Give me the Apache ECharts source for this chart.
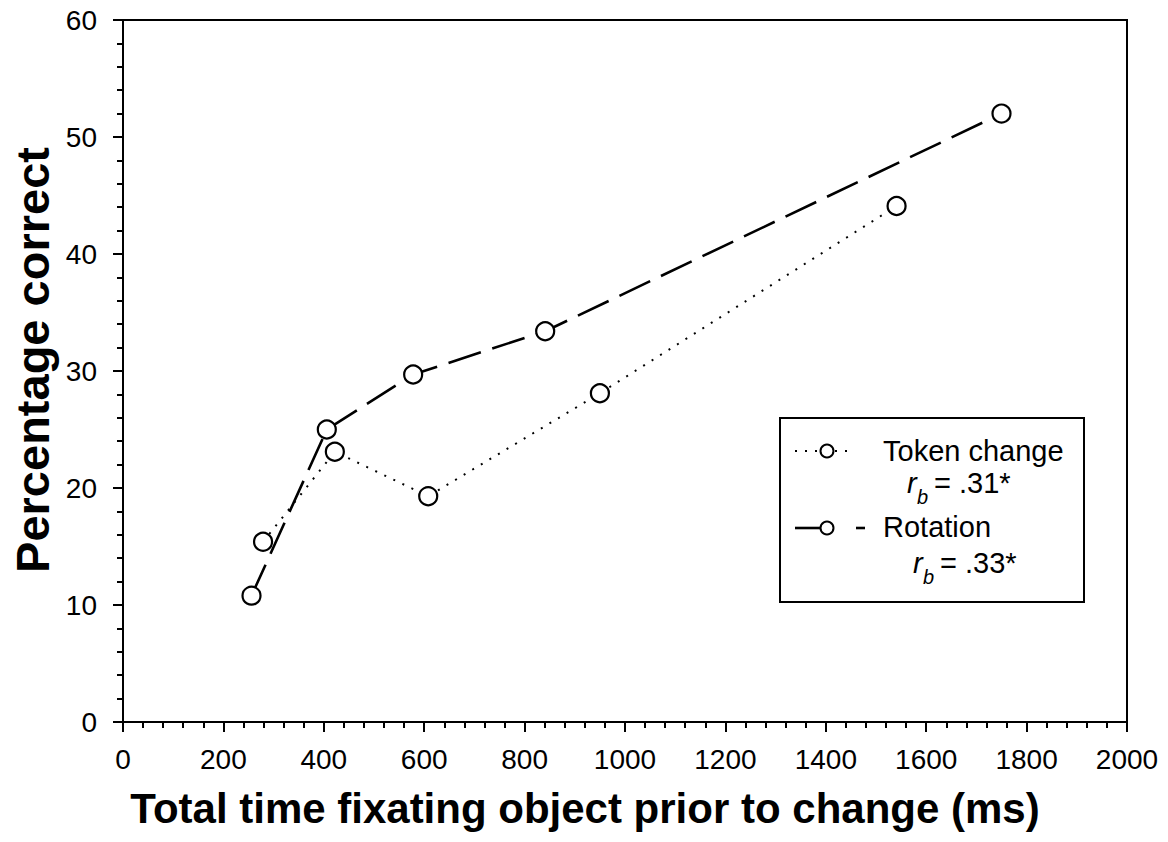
<!DOCTYPE html>
<html>
<head>
<meta charset="utf-8">
<title>Percentage correct vs fixation time</title>
<script src="https://cdn.jsdelivr.net/npm/echarts/dist/echarts.min.js"></script>
<style>
    html, body { margin: 0; padding: 0; background: #fff; }
    #chart { width: 1168px; height: 842px; }
</style>
</head>
<body>
<div id="chart"></div>
<script>
// values (ms, percentage correct)
var tokenTime = [279, 422, 608, 950, 1541];
var tokenPct = [15.4, 23.1, 19.3, 28.1, 44.1];
var rotationTime = [256, 406, 578, 841, 1750];
var rotationPct = [10.8, 25.0, 29.7, 33.4, 52.0];

var seriesNames = ['Token change', 'Rotation'];
var correlations = ['= .31*', '= .33*'];

var xTitle = 'Total time fixating object prior to change (ms)';
var yTitle = 'Percentage correct';

var font = 'Liberation Sans, Arial, Helvetica, sans-serif';

function pairs(xs, ys) {
    return xs.map(function (x, i) { return [x, ys[i]]; });
}

var myChart = echarts.init(document.getElementById('chart'), null, { renderer: 'svg' });

var marker = {
    color: '#fff',
    borderColor: '#000',
    borderWidth: 2.2
};

var tickLabel = {
    color: '#000',
    fontSize: 28,
    fontFamily: font,
    // plain numbers, no thousands separator
    formatter: function (v) { return String(v); }
};

var option = {
    animation: false,
    backgroundColor: '#fff',
    grid: {
        left: 123,
        right: 41,
        top: 20,
        bottom: 120,
        show: true,
        borderColor: '#000',
        borderWidth: 2,
        backgroundColor: 'transparent'
    },
    xAxis: {
        type: 'value',
        min: 0,
        max: 2000,
        interval: 200,
        axisLine: { lineStyle: { color: '#000', width: 2 } },
        axisTick: { length: 10, lineStyle: { color: '#000', width: 2 } },
        minorTick: { show: true, splitNumber: 5, length: 6, lineStyle: { color: '#000', width: 2 } },
        splitLine: { show: false },
        axisLabel: Object.assign({ margin: 23 }, tickLabel)
    },
    yAxis: {
        type: 'value',
        min: 0,
        max: 60,
        interval: 10,
        axisLine: { show: true, lineStyle: { color: '#000', width: 2 } },
        axisTick: { show: true, length: 10, lineStyle: { color: '#000', width: 2 } },
        minorTick: { show: true, splitNumber: 5, length: 6, lineStyle: { color: '#000', width: 2 } },
        splitLine: { show: false },
        axisLabel: Object.assign({ margin: 26 }, tickLabel)
    },
    series: [
        {
            name: seriesNames[0],
            type: 'line',
            data: pairs(tokenTime, tokenPct),
            symbol: 'circle',
            symbolSize: 18,
            itemStyle: marker,
            lineStyle: { color: '#000', width: 2, type: [2, 8] },
            z: 2
        },
        {
            name: seriesNames[1],
            type: 'line',
            data: pairs(rotationTime, rotationPct),
            symbol: 'circle',
            symbolSize: 18,
            itemStyle: marker,
            lineStyle: { color: '#000', width: 2.6, type: [34, 12] },
            z: 3
        }
    ],
    graphic: [
        // axis titles
        {
            type: 'text',
            x: 585, y: 808,
            style: {
                text: xTitle, font: 'bold 42px ' + font, fill: '#000',
                align: 'center', verticalAlign: 'middle'
            }
        },
        {
            type: 'text',
            x: 32, y: 360,
            rotation: Math.PI / 2,
            style: {
                text: yTitle, font: 'bold 47px ' + font, fill: '#000',
                align: 'center', verticalAlign: 'middle'
            }
        },
        // legend box
        {
            type: 'rect',
            shape: { x: 780, y: 418, width: 304, height: 184 },
            style: { fill: '#fff', stroke: '#000', lineWidth: 2 },
            z: 10
        },
        // token change key: dotted line + circle
        {
            type: 'line', z: 11,
            shape: { x1: 795, y1: 451, x2: 853, y2: 451 },
            style: { stroke: '#000', lineWidth: 2, lineDash: [2, 8] }
        },
        {
            type: 'circle', z: 12,
            shape: { cx: 827, cy: 451, r: 6.5 },
            style: { fill: '#fff', stroke: '#000', lineWidth: 2 }
        },
        // rotation key: solid line, circle, dash
        {
            type: 'line', z: 11,
            shape: { x1: 795, y1: 528, x2: 820, y2: 528 },
            style: { stroke: '#000', lineWidth: 2.6 }
        },
        {
            type: 'line', z: 11,
            shape: { x1: 856, y1: 528, x2: 865, y2: 528 },
            style: { stroke: '#000', lineWidth: 2.6 }
        },
        {
            type: 'circle', z: 12,
            shape: { cx: 827, cy: 528, r: 6.5 },
            style: { fill: '#fff', stroke: '#000', lineWidth: 2 }
        },
        // legend texts
        {
            type: 'text', z: 12, x: 883, y: 451,
            style: { text: seriesNames[0], font: '29px ' + font, fill: '#000', verticalAlign: 'middle' }
        },
        {
            type: 'text', z: 12, x: 907, y: 483,
            style: { text: 'r', font: 'italic 29px ' + font, fill: '#000', verticalAlign: 'middle' }
        },
        {
            type: 'text', z: 12, x: 917, y: 497,
            style: { text: 'b', font: 'italic 20px ' + font, fill: '#000', verticalAlign: 'middle' }
        },
        {
            type: 'text', z: 12, x: 934, y: 483,
            style: { text: correlations[0], font: '29px ' + font, fill: '#000', verticalAlign: 'middle' }
        },
        {
            type: 'text', z: 12, x: 883, y: 527,
            style: { text: seriesNames[1], font: '29px ' + font, fill: '#000', verticalAlign: 'middle' }
        },
        {
            type: 'text', z: 12, x: 913, y: 563,
            style: { text: 'r', font: 'italic 29px ' + font, fill: '#000', verticalAlign: 'middle' }
        },
        {
            type: 'text', z: 12, x: 923, y: 577,
            style: { text: 'b', font: 'italic 20px ' + font, fill: '#000', verticalAlign: 'middle' }
        },
        {
            type: 'text', z: 12, x: 940, y: 563,
            style: { text: correlations[1], font: '29px ' + font, fill: '#000', verticalAlign: 'middle' }
        }
    ]
};

myChart.setOption(option);
</script>
</body>
</html>
